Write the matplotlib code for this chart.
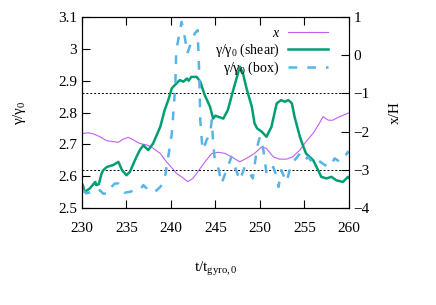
import matplotlib
matplotlib.use("Agg")
import matplotlib.pyplot as plt

plt.rcParams['font.family'] = ['Liberation Serif', 'DejaVu Serif']
plt.rcParams['mathtext.fontset'] = 'custom'
plt.rcParams['mathtext.rm'] = 'Liberation Serif'
plt.rcParams['mathtext.it'] = 'Liberation Serif:italic'

# gamma/gamma0 with shearing
t_shear = [230.1, 230.3, 230.9, 231.2, 231.5, 231.6, 231.9, 232.2, 232.4, 232.8, 233.5, 234.1,
           234.5, 235.0, 235.4, 235.95, 236.5, 236.9, 237.45, 238.0, 238.8, 239.3, 239.7, 240.1,
           240.26, 240.6, 241.0, 241.4, 241.8, 242.0, 242.3, 242.9, 243.3, 243.8, 244.4, 244.75,
           245.0, 245.3, 245.9, 246.4, 247.0, 247.75, 248.1, 248.5, 249.1, 249.4, 249.7, 250.2,
           250.75, 251.3, 251.9, 252.4, 252.8, 253.2, 253.6, 253.9, 254.5, 254.9, 255.2, 256.0,
           256.55, 256.9, 257.5, 258.05, 258.6, 259.35, 259.9, 260.0]
g_shear = [2.572, 2.55, 2.562, 2.572, 2.582, 2.572, 2.575, 2.608, 2.619, 2.629, 2.635, 2.645,
           2.619, 2.603, 2.614, 2.650, 2.682, 2.697, 2.682, 2.703, 2.755, 2.808, 2.839, 2.876,
           2.881, 2.891, 2.902, 2.897, 2.907, 2.900, 2.912, 2.912, 2.897, 2.855, 2.818, 2.781,
           2.790, 2.787, 2.781, 2.808, 2.870, 2.944, 2.923, 2.876, 2.818, 2.766, 2.750, 2.740,
           2.724, 2.755, 2.829, 2.839, 2.834, 2.839, 2.829, 2.787, 2.724, 2.692, 2.671, 2.650,
           2.619, 2.598, 2.593, 2.598, 2.587, 2.582, 2.598, 2.595]

# gamma/gamma0 in box
t_box = [230.1, 230.5, 231.1, 231.65, 232.0, 232.4, 233.0, 233.3, 233.7, 234.1, 234.5, 234.8,
         235.4, 235.95, 236.5, 236.9, 237.3, 237.6, 238.2, 238.8, 239.1, 239.4, 239.7, 240.1,
         240.3, 240.5, 240.6, 241.0, 241.2, 241.6, 241.85, 242.3, 242.7, 243.0, 243.2, 243.3,
         243.5, 243.6, 244.0, 244.4, 244.6, 244.75, 244.9, 245.3, 245.7, 246.1, 246.4, 246.8,
         247.2, 247.75, 248.3, 248.9, 249.2, 249.7, 250.0, 250.4, 250.75, 251.1, 251.5, 251.9,
         252.1, 252.4, 253.0, 253.4, 253.9, 254.5, 255.1, 255.4, 256.0, 256.55, 257.3, 257.9,
         258.4, 259.0, 259.55, 259.9, 260.0]
g_box = [2.556, 2.546, 2.551, 2.546, 2.556, 2.545, 2.546, 2.566, 2.577, 2.577, 2.561, 2.548,
         2.551, 2.556, 2.556, 2.572, 2.561, 2.551, 2.551, 2.566, 2.577, 2.608, 2.661, 2.734,
         2.808, 2.891, 2.996, 3.054, 3.085, 3.030, 2.986, 3.022, 3.049, 3.059, 2.912, 2.776,
         2.703, 2.682, 2.713, 2.734, 2.776, 2.703, 2.661, 2.629, 2.577, 2.608, 2.629, 2.661,
         2.629, 2.587, 2.629, 2.608, 2.593, 2.692, 2.724, 2.682, 2.608, 2.608, 2.629, 2.598,
         2.566, 2.619, 2.582, 2.624, 2.650, 2.671, 2.650, 2.661, 2.640, 2.650, 2.635, 2.629,
         2.656, 2.645, 2.661, 2.677, 2.670]

# particle position x/H
t_pos = [230.0, 230.7, 231.3, 232.0, 232.8, 233.5, 234.1, 234.6, 235.2, 235.8, 236.5, 237.3,
         237.8, 238.8, 239.5, 240.3, 240.6, 241.4, 241.9, 242.5, 243.3, 244.0, 244.6, 245.3,
         246.1, 246.8, 247.75, 248.5, 249.4, 250.2, 250.75, 251.5, 252.2, 253.0, 253.7, 254.5,
         255.2, 256.0, 256.7, 257.1, 257.7, 258.2, 258.95, 259.9, 260.0]
x_pos = [-2.05, -2.03, -2.06, -2.13, -2.24, -2.26, -2.28, -2.20, -2.15, -2.22, -2.31, -2.35,
         -2.40, -2.57, -2.79, -3.00, -3.09, -3.22, -3.31, -3.22, -2.96, -2.74, -2.57, -2.54,
         -2.57, -2.66, -2.79, -2.70, -2.57, -2.40, -2.44, -2.66, -2.72, -2.72, -2.66, -2.48,
         -2.26, -2.04, -1.78, -1.61, -1.70, -1.70, -1.61, -1.52, -1.51]

fig = plt.figure(figsize=(4.36, 3.05), dpi=100)
ax = fig.add_axes([0.188, 0.318, 0.612, 0.626])
ax2 = ax.twinx()

lx, = ax2.plot(t_pos, x_pos, color='#c060f0', lw=0.8, label='$x$')
ls, = ax.plot(t_shear, g_shear, color='#009e73', lw=1.8, label='γ/γ$_{0}$ (shear)')
lb, = ax.plot(t_box, g_box, color='#56b4e9', lw=1.8, dashes=(3.5, 4), label='γ/γ$_{0}$ (box)')

# reference levels
for lev in [-1, -3]:
    ax2.axhline(lev, color='black', lw=0.7, ls=(0, (2, 2)))

ax.set_xlim(230, 260)
ax.set_ylim(2.5, 3.1)
ax2.set_ylim(-4, 1)
ax.set_xticks([230, 235, 240, 245, 250, 255, 260])
ax.set_yticks([2.5, 2.6, 2.7, 2.8, 2.9, 3.0, 3.1])
ax.set_yticklabels(['2.5', '2.6', '2.7', '2.8', '2.9', '3', '3.1'])
ax2.set_yticks([-4, -3, -2, -1, 0, 1])

ax.tick_params(axis='x', direction='in', top=True, length=6, labelsize=11, pad=10)
ax.tick_params(axis='y', direction='in', length=6, labelsize=11)
ax2.tick_params(axis='y', direction='in', length=6, labelsize=11)
ax2.spines['right'].set_color('#888888')

ax.set_xlabel('t/t$_{\\mathrm{gyro,0}}$', fontsize=11, labelpad=18)
ax.set_ylabel('γ/γ$_{0}$', fontsize=11, labelpad=22)
ax2.set_ylabel('x/H', fontsize=11, labelpad=14)

ax.set_zorder(ax2.get_zorder() + 1)
ax.patch.set_visible(False)

leg = ax.legend([lx, ls, lb], [lx.get_label(), ls.get_label(), lb.get_label()],
                loc='upper right', frameon=False, markerfirst=False, fontsize=10,
                handlelength=2.9, handletextpad=0.6, labelspacing=0.1, borderaxespad=0.3,
                bbox_to_anchor=(0.96, 1.0))

fig.savefig('out.png', dpi=100)
